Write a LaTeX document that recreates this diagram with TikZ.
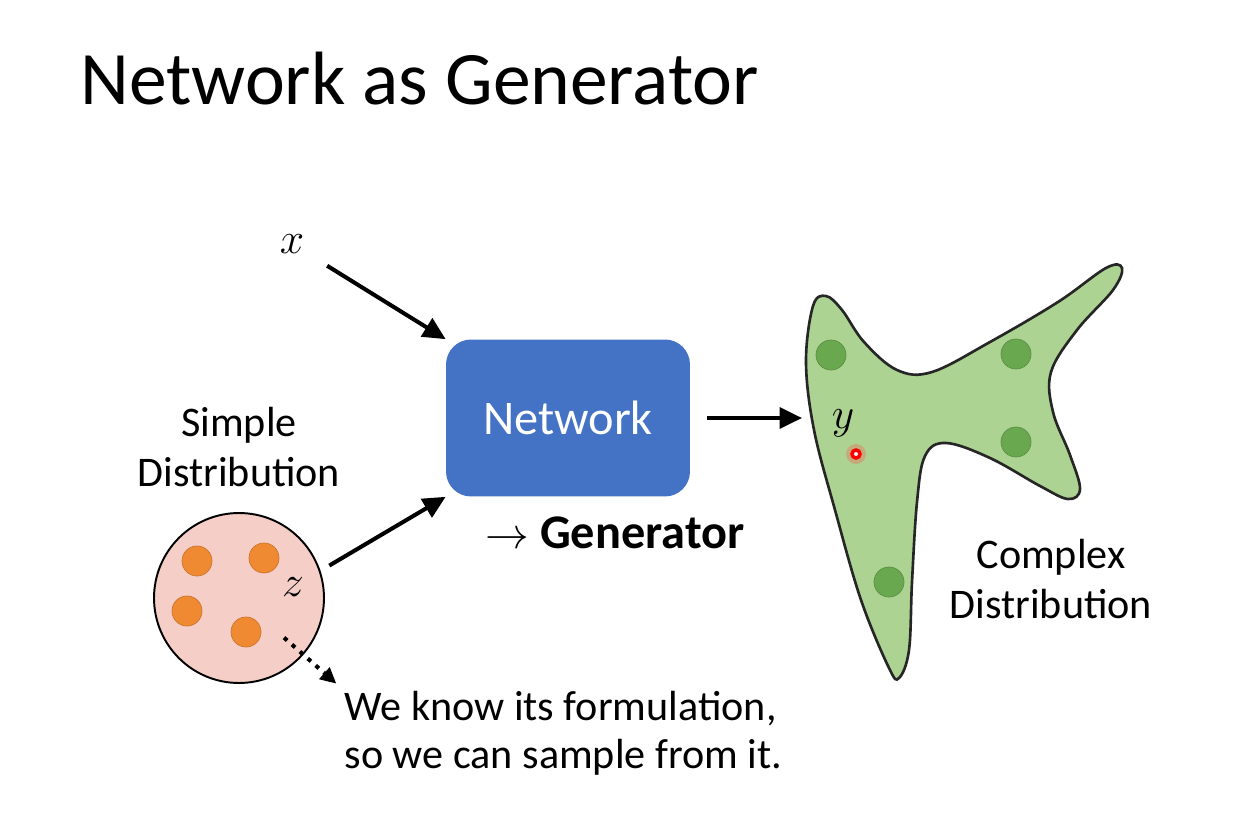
\documentclass[tikz,border=0pt]{standalone}
\usepackage{fontspec}
\setmainfont{Carlito}
\usetikzlibrary{positioning, arrows.meta}

\definecolor{netblue}{RGB}{68,114,196}
\definecolor{simplepink}{RGB}{246,206,200}
\definecolor{dotorange}{RGB}{240,138,50}
\definecolor{blobgreen}{RGB}{172,211,146}
\definecolor{dotgreen}{RGB}{106,168,79}

\begin{document}
\begin{tikzpicture}[
    x=0.02cm, y=-0.02cm,
    txt/.style={font=\fontsize{24}{28.5}\selectfont, align=center},
    mathlbl/.style={font=\fontsize{24}{24}\selectfont, inner sep=2pt},
    netbox/.style={rectangle, rounded corners=0.5cm, fill=netblue, minimum width=4.88cm, minimum height=3.14cm, text=white, font=\fontsize{27.5}{30}\selectfont},
    simple/.style={circle, draw, line width=1.1pt, fill=simplepink, minimum size=3.4cm},
    sdot/.style={circle, fill=dotorange, draw=dotorange!85!black, thin, minimum size=0.6cm, inner sep=0pt},
    cdot/.style={circle, fill=dotgreen, draw=dotgreen!85!black, thin, minimum size=0.6cm, inner sep=0pt},
    flow/.style={->, line width=2.3pt, >={Triangle[length=0.45cm, width=0.42cm]}},
    hint/.style={->, line width=2.3pt, dash pattern=on 2.4pt off 3.6pt, >={Triangle[length=0.32cm, width=0.3cm]}}
  ]
  \fill[white] (0,0) rectangle (1247,831);
  \useasboundingbox (0,0) rectangle (1247,831);

  % --- title ---
  \node[anchor=base west, inner sep=0pt, font=\fontsize{43}{50}\selectfont] (title) at (80,105) {Network as Generator};

  % --- simple distribution ---
  \node[simple] (dist) at (239,598) {};
  \node[sdot] (s1) at (197,561) {};
  \node[sdot] (s2) at (264,558) {};
  \node[sdot] (s3) at (187,611) {};
  \node[sdot] (s4) at (246,632) {};
  \node[txt, above=0.38cm of dist] (simplelbl) {Simple\\Distribution};
  \node[mathlbl] (zin) at (293,587) {$z$};
  \node[txt, anchor=north west, inner sep=3pt, align=left, font=\fontsize{24}{27}\selectfont] (note) at (339,686) {We know its formulation,\\so we can sample from it.};

  % --- network ---
  \node[mathlbl] (xin) at (292,244) {$x$};
  \node[netbox] (net) at (568,418) {Network};
  \node[anchor=base, inner sep=0pt, font=\fontsize{27.5}{30}\selectfont] (gen) at (615,548) {$\rightarrow$ \textbf{Generator}};

  % --- complex distribution ---
  \draw[line width=1.5pt, draw=black!85, fill=blobgreen] plot[smooth cycle, tension=0.6] coordinates {
    (813,306) (826,296) (842,310) (864,342) (897,370) (932,372)
    (990,342) (1058,302) (1106,268) (1122,268) (1113,290) (1077,330)
    (1051,372) (1053,412) (1070,455) (1080,489) (1068,499)
    (1040,486) (990,458) (946,443) (925,456)
    (917,502) (912,582) (909,650) (899,678) (889,668)
    (861,600) (835,510) (814,430) (806,362)};
  \node[cdot] (c1) at (831,355) {};
  \node[cdot] (c2) at (1016,354) {};
  \node[cdot] (c3) at (1016,442) {};
  \node[cdot] (c4) at (889,582) {};
  \fill[red!70, opacity=0.3] (856,454) circle (0.2cm);
  \node[circle, draw=red, line width=2pt, fill=white, minimum size=0.16cm, inner sep=0pt] (ypt) at (856,454) {};
  \node[mathlbl] (yout) at (843,423) {$y$};
  \coordinate (blobin) at (802,418);
  \node[txt] (complexlbl) at (1051,579) {Complex\\Distribution};

  % --- arrows ---
  \draw[flow, shorten <=0.45cm] (xin) -- (net.north west);
  \draw[flow, shorten <=0.5cm] (zin) -- (net.south west);
  \draw[flow, shorten <=0.34cm] (net) -- (blobin);
  \draw[hint, shorten <=1.2cm, shorten >=2pt] (dist.center) -- (note.north west);
\end{tikzpicture}
\end{document}
